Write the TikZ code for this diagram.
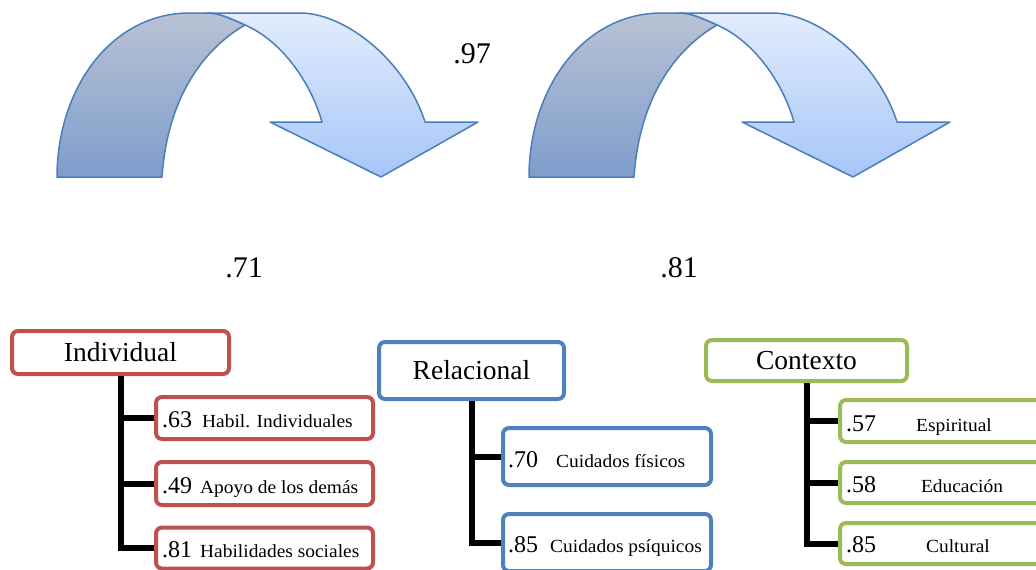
\documentclass[tikz,border=0pt]{standalone}
\usepackage{fontspec}
\setmainfont{Liberation Serif}
\newfontfamily\lblfont[FakeStretch=1.05]{Liberation Serif}

\definecolor{arrowedge}{HTML}{4A7EBB}
\definecolor{backtop}{HTML}{B9C2D4}
\definecolor{backbot}{HTML}{7E9DCC}
\definecolor{fronttop}{HTML}{E2ECFC}
\definecolor{frontbot}{HTML}{A6C6F8}
\definecolor{boxred}{HTML}{C0504D}
\definecolor{boxblue}{HTML}{4F81BD}
\definecolor{boxgreen}{HTML}{9BBB59}

\begin{document}
\begin{tikzpicture}[x=1pt,y=-1pt,
  arrowline/.style={draw=arrowedge, line width=1.5pt, line join=round},
  backside/.style={arrowline, top color=backtop, bottom color=backbot},
  frontside/.style={arrowline, top color=fronttop, bottom color=frontbot},
  coef/.style={font=\fontsize{30}{30}\selectfont, inner sep=0pt, anchor=base},
  catbox/.style={draw, rounded corners=6pt, line width=4pt, fill=white,
    inner sep=0pt, font=\fontsize{27.5}{27.5}\selectfont},
  itembox/.style={draw, rounded corners=6pt, line width=4pt, fill=white, inner sep=0pt},
  num/.style={font=\fontsize{24}{24}\selectfont, inner sep=0pt, anchor=base west},
  lbl/.style={font=\lblfont\fontsize{18.5}{18.5}\selectfont, inner sep=0pt, anchor=base west},
  lblc/.style={lbl, anchor=base},
  conn/.style={draw=black, line width=6pt, line join=miter}]

\useasboundingbox (0,0) rectangle (1036,570);
\clip (0,0) rectangle (1036,570);

% two curved ribbon arrows
\foreach \dx in {0,472} {
  \begin{scope}[xshift=\dx pt]
    % front (light) face with the arrowhead
    \path[frontside] (207,13) -- (300,13)
      .. controls (345,13) and (405,60) .. (425,122)
      -- (478,122) -- (381,177) -- (270,122) -- (322,122)
      .. controls (310,80) and (280,40) .. (245,25)
      .. controls (232,19.5) and (220,13) .. (207,13) -- cycle;
    % back (dark) face of the ribbon
    \path[backside] (57,177)
      .. controls (57,90) and (110,13) .. (190,13) -- (207,13)
      .. controls (220,13) and (232,19.5) .. (245,25)
      .. controls (210,45) and (168,90) .. (162,177) -- cycle;
  \end{scope}
}

% path coefficients
\node[coef] (c97) at (472,63) {.97};
\node[coef] (c71) at (244,277) {.71};
\node[coef] (c81) at (679,277) {.81};

% Individual
\node[catbox, draw=boxred, minimum width=217pt, minimum height=43pt] (ind) at (120.5,352.5) {Individual};
\node[itembox, draw=boxred, minimum width=217pt, minimum height=42pt] (ind1) at (264.5,418) {};
\node[itembox, draw=boxred, minimum width=217pt, minimum height=43pt] (ind2) at (264.5,483.5) {};
\node[itembox, draw=boxred, minimum width=217pt, minimum height=41pt] (ind3) at (264.5,548) {};
\draw[conn] (ind.south) |- (ind3.west);
\draw[conn] (ind.south |- ind1.west) -- (ind1.west);
\draw[conn] (ind.south |- ind2.west) -- (ind2.west);
\node[num] (ind1n) at (162,427) {.63};
\node[lbl] (ind1t) at (202,427) {Habil. Individuales};
\node[num] (ind2n) at (162,493) {.49};
\node[lbl] (ind2t) at (200,493) {Apoyo de los demás};
\node[num] (ind3n) at (162,557.5) {.81};
\node[lbl] (ind3t) at (200,557.5) {Habilidades sociales};

% Relacional
\node[catbox, draw=boxblue, minimum width=185pt, minimum height=57pt] (rel) at (471.5,370.5) {Relacional};
\node[itembox, draw=boxblue, minimum width=208pt, minimum height=57pt] (rel1) at (607,456.5) {};
\node[itembox, draw=boxblue, minimum width=208pt, minimum height=57pt] (rel2) at (607,542.5) {};
\draw[conn] (rel.south) |- (rel2.west);
\draw[conn] (rel.south |- rel1.west) -- (rel1.west);
\node[num] (rel1n) at (508,467) {.70};
\node[lbl] (rel1t) at (556,467) {Cuidados físicos};
\node[num] (rel2n) at (508,552) {.85};
\node[lbl] (rel2t) at (550,552) {Cuidados psíquicos};

% Contexto
\node[catbox, draw=boxgreen, minimum width=201pt, minimum height=41pt] (ctx) at (806.5,360.5) {Contexto};
\node[itembox, draw=boxgreen, minimum width=205pt, minimum height=42pt] (ctx1) at (942.5,421) {};
\node[itembox, draw=boxgreen, minimum width=205pt, minimum height=41pt] (ctx2) at (942.5,482.5) {};
\node[itembox, draw=boxgreen, minimum width=205pt, minimum height=41pt] (ctx3) at (942.5,543.5) {};
\draw[conn] (ctx.south) |- (ctx3.west);
\draw[conn] (ctx.south |- ctx1.west) -- (ctx1.west);
\draw[conn] (ctx.south |- ctx2.west) -- (ctx2.west);
\node[num] (ctx1n) at (846,431) {.57};
\node[lblc] (ctx1t) at (954,431) {Espiritual};
\node[num] (ctx2n) at (846,492) {.58};
\node[lblc] (ctx2t) at (962,492) {Educación};
\node[num] (ctx3n) at (846,552) {.85};
\node[lblc] (ctx3t) at (958,552) {Cultural};
\end{tikzpicture}
\end{document}
